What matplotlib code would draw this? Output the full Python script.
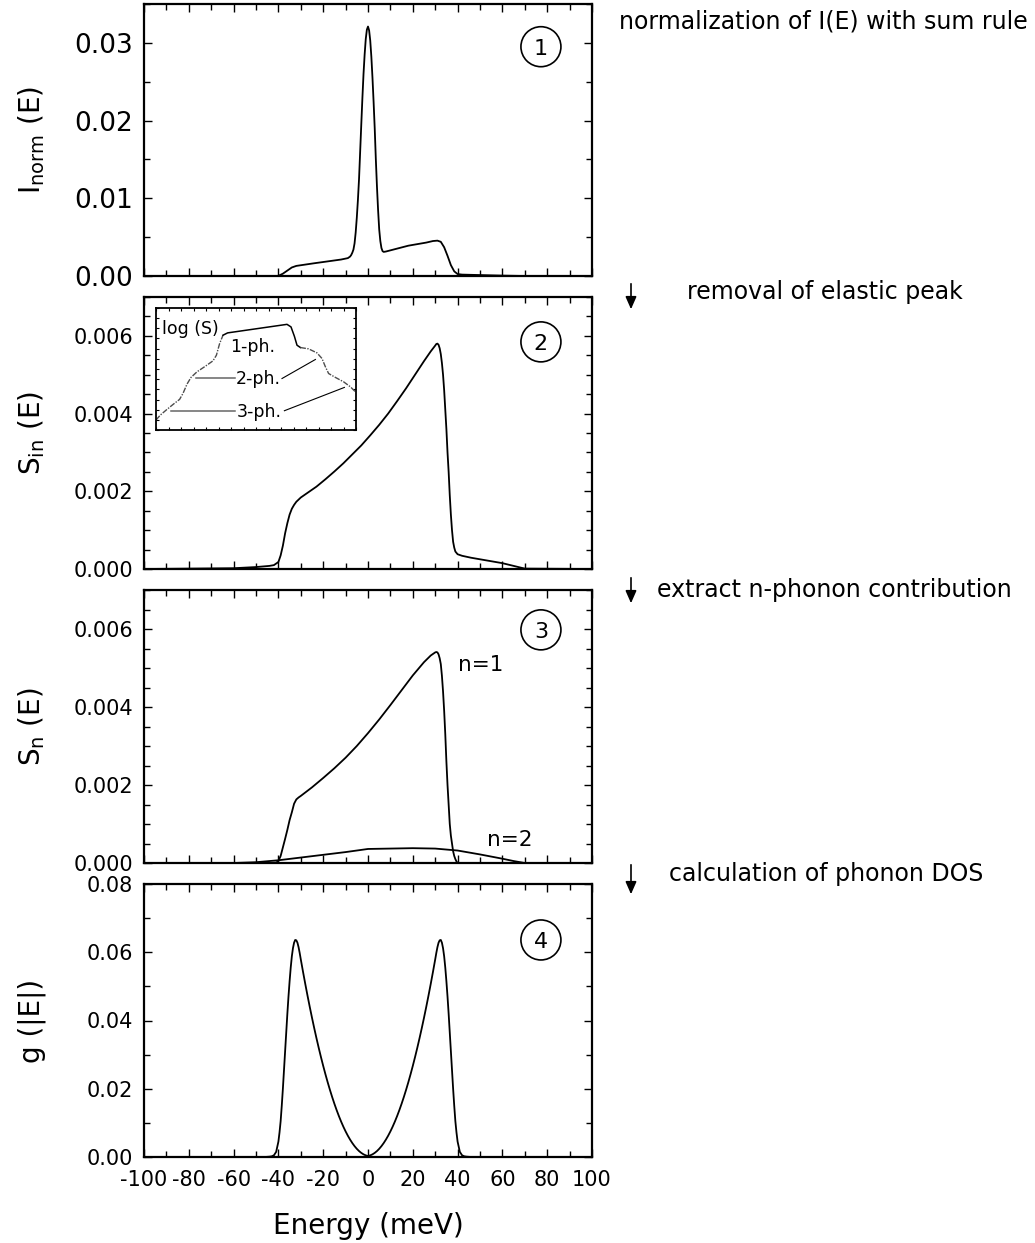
"""Four-step phonon DOS extraction figure (I(E) -> S_in -> S_n -> g)."""

import matplotlib
matplotlib.use("Agg")
import matplotlib.pyplot as plt
from matplotlib.patches import Ellipse, FancyArrowPatch
from matplotlib.ticker import MultipleLocator, FormatStrFormatter

plt.rcParams["font.family"] = ["DejaVu Sans"]
plt.rcParams["axes.unicode_minus"] = False
plt.rcParams["mathtext.default"] = "regular"

# --- panel 1: normalized spectrum I_norm(E) ---
e_norm = [-100, -42, -40, -38, -36, -34, -32, -28, -24, -20, -16, -12, -9,
          -8, -7.5, -7, -6.5, -6, -5.5, -5, -4.5, -4, -3.5, -3, -2.5, -2,
          -1.5, -1, -0.5, 0, 0.5, 1, 1.5, 2, 2.5, 3, 3.5, 4, 4.5, 5, 5.5, 6,
          6.5, 7, 8, 10, 14, 18, 22, 26, 29, 31, 32.5, 34, 35.5, 37, 38.5,
          40, 42, 50, 60, 70, 100]
i_norm = [0, 0, 0.00002, 0.0003, 0.0007, 0.0011, 0.0013, 0.00147, 0.00164,
          0.0018, 0.00196, 0.00212, 0.0023, 0.0025, 0.0027, 0.003, 0.0034,
          0.0042, 0.0056, 0.0075, 0.0098, 0.0125, 0.016, 0.0195, 0.0229,
          0.026, 0.0285, 0.0305, 0.0317, 0.0321, 0.0316, 0.0303, 0.0282,
          0.0255, 0.0224, 0.019, 0.015, 0.0115, 0.0085, 0.006, 0.0045, 0.0036,
          0.0032, 0.0031, 0.00315, 0.0033, 0.0036, 0.0039, 0.0041, 0.0043,
          0.0045, 0.00455, 0.0044, 0.0037, 0.0026, 0.0014, 0.0006, 0.00025,
          0.00018, 0.00012, 0.00005, 0, 0]

# --- panel 2: inelastic part S_in(E) ---
e_in = [-100, -60, -50, -44, -42, -40, -39, -38, -37, -36, -35, -34, -33, -32,
        -30, -27, -23, -19, -15, -11, -7, -3, 1, 5, 9, 13, 17, 21, 25, 28, 30,
        30.5, 31, 31.5, 32, 32.5, 33, 33.5, 34, 34.5, 35, 35.5, 36, 36.5, 37,
        37.5, 38, 38.5, 39, 40, 42, 46, 50, 55, 60, 65, 70, 100]
s_in = [0, 0.00002, 0.00005, 0.00008, 0.0001, 0.00018, 0.00035, 0.0006,
        0.00092, 0.00118, 0.0014, 0.00155, 0.00165, 0.00173, 0.00184,
        0.00196, 0.00212, 0.00231, 0.00251, 0.00272, 0.00295, 0.00318,
        0.00344, 0.00371, 0.004, 0.00432, 0.00465, 0.005, 0.00535, 0.0056,
        0.00575, 0.00579, 0.0058, 0.00577, 0.00568, 0.00553, 0.0053, 0.005,
        0.0046, 0.0041, 0.0036, 0.003, 0.0025, 0.0019, 0.0014, 0.001, 0.0007,
        0.00055, 0.00045, 0.00038, 0.00034, 0.00029, 0.00025, 0.0002,
        0.00015, 0.00008, 0.00001, 0]

# inset: log(S) sketch, arbitrary units (0..1 on both axes)
inset_x = [0, 0.022, 0.055, 0.088, 0.118, 0.135, 0.155, 0.175, 0.205, 0.247,
           0.285, 0.302, 0.318, 0.335]
inset_y = [0.082, 0.123, 0.169, 0.213, 0.251, 0.300, 0.376, 0.431, 0.477,
           0.523, 0.567, 0.613, 0.708, 0.777]
inset_top_x = [0.335, 0.358, 0.655, 0.675, 0.692, 0.705, 0.722]
inset_top_y = [0.777, 0.796, 0.866, 0.845, 0.768, 0.695, 0.676]
inset_right_x = [0.722, 0.763, 0.805, 0.830, 0.847, 0.863, 0.897, 0.938,
                 0.972, 1.0]
inset_right_y = [0.676, 0.665, 0.632, 0.586, 0.518, 0.463, 0.431, 0.395,
                 0.354, 0.308]

# --- panel 3: n-phonon contributions ---
e_n1 = [-100, -44, -41, -40, -39, -38, -37, -36, -35, -34, -33, -32, -31, -30,
        -25, -20, -15, -10, -5, 0, 5, 10, 15, 20, 25, 28, 30, 30.5, 31, 31.5,
        32, 32.5, 33, 33.5, 34, 34.5, 35, 35.5, 36, 36.5, 37, 37.5, 38, 38.5,
        39, 39.5, 40, 100]
s_n1 = [0, 0, 0.00001, 0.00005, 0.00018, 0.0004, 0.00062, 0.00085, 0.0011,
        0.0013, 0.00152, 0.00163, 0.00168, 0.00172, 0.00194, 0.00218,
        0.00243, 0.0027, 0.003, 0.00333, 0.00368, 0.00405, 0.00443, 0.00481,
        0.00515, 0.00532, 0.0054, 0.00541, 0.0054, 0.00535, 0.00525, 0.0051,
        0.0048, 0.0044, 0.0039, 0.0033, 0.0026, 0.002, 0.0015, 0.001, 0.0007,
        0.0005, 0.0003, 0.00018, 0.0001, 0.00004, 0, 0]
e_n2 = [-100, -60, -50, -40, -30, -20, -10, 0, 10, 20, 30, 40, 50, 60, 65,
        70, 100]
s_n2 = [0, 0, 0.00002, 0.00007, 0.00014, 0.00021, 0.00028, 0.00036, 0.00037,
        0.00038, 0.00037, 0.00032, 0.00022, 0.00011, 0.00005, 0, 0]

# --- panel 4: phonon DOS g(|E|) ---
e_dos = [-100, -46, -44, -43, -42, -41, -40, -39.5, -39, -38.5, -38, -37.5,
         -37, -36.5, -36, -35.5, -35, -34.5, -34, -33.5, -33, -32.5, -32,
         -31.5, -31, -30.5, -30, -29, -28, -27, -26, -25, -24, -23, -22, -21,
         -20, -19, -18, -17, -16, -15, -14, -13, -12, -11, -10, -9, -8, -7,
         -6, -5, -4, -3, -2, -1, 0,
         1, 2, 3, 4, 5, 6, 7, 8, 9, 10, 11, 12, 13, 14, 15, 16, 17, 18, 19,
         20, 21, 22, 23, 24, 25, 26, 27, 28, 29, 30, 30.5, 31, 31.5, 32, 32.5,
         33, 33.5, 34, 34.5, 35, 35.5, 36, 36.5, 37, 37.5, 38, 38.5, 39, 39.5,
         40, 41, 42, 43, 44, 46, 100]
g_dos = [0, 0, 0.0001, 0.0002, 0.0005, 0.0015, 0.0045, 0.0072, 0.0105, 0.015,
         0.02, 0.0255, 0.031, 0.0365, 0.042, 0.047, 0.0515, 0.0555, 0.0588,
         0.0612, 0.0628, 0.0636, 0.0635, 0.0628, 0.0615, 0.0598, 0.0579,
         0.05424, 0.0507, 0.04728, 0.04398, 0.0408, 0.03774, 0.0348, 0.03198,
         0.02928, 0.0267, 0.02424, 0.0219, 0.01968, 0.01758, 0.0156, 0.01374,
         0.012, 0.01038, 0.00888, 0.0075, 0.00624, 0.0051, 0.00408, 0.00318,
         0.0024, 0.00174, 0.0012, 0.00078, 0.00048, 0.0003,
         0.00048, 0.00078, 0.0012, 0.00174, 0.0024, 0.00318, 0.00408, 0.0051,
         0.00624, 0.0075, 0.00888, 0.01038, 0.012, 0.01374, 0.0156, 0.01758,
         0.01968, 0.0219, 0.02424, 0.0267, 0.02928, 0.03198, 0.0348, 0.03774,
         0.0408, 0.04398, 0.04728, 0.0507, 0.05424, 0.0579, 0.0598, 0.0615,
         0.0628, 0.0635, 0.0636, 0.0628, 0.0612, 0.0588, 0.0555, 0.0515,
         0.047, 0.042, 0.0365, 0.031, 0.0255, 0.02, 0.015, 0.0105, 0.0072,
         0.0045, 0.0015, 0.0005, 0.0002, 0.0001, 0, 0]

steps = ["normalization of I(E) with sum rule", "removal of elastic peak",
         "extract n-phonon contribution", "calculation of phonon DOS"]

W, H = 1035, 1243
fig = plt.figure(figsize=(W / 100, H / 100), dpi=100)


def px_axes(left, top, right, bottom):
    return fig.add_axes([left / W, 1 - bottom / H, (right - left) / W,
                         (bottom - top) / H])


def style_axes(ax, ymax, ymajor, yminor, yfmt, ysize, show_x=False):
    ax.set_xlim(-100, 100)
    ax.set_ylim(0, ymax)
    ax.xaxis.set_major_locator(MultipleLocator(20))
    ax.xaxis.set_minor_locator(MultipleLocator(10))
    ax.yaxis.set_major_locator(MultipleLocator(ymajor))
    ax.yaxis.set_minor_locator(MultipleLocator(yminor))
    ax.yaxis.set_major_formatter(FormatStrFormatter(yfmt))
    ax.tick_params(which="both", direction="in", top=True, right=True,
                   width=1.0)
    ax.tick_params(which="major", length=6)
    ax.tick_params(which="minor", length=4)
    ax.tick_params(axis="y", labelsize=ysize, pad=8)
    ax.tick_params(axis="x", labelsize=15, pad=9, labelbottom=show_x)
    for spine in ax.spines.values():
        spine.set_linewidth(1.6)


def circled(ax, label, xf, yf, h_px):
    ax.add_patch(Ellipse((xf, yf), 40 / 448, 40 / h_px, transform=ax.transAxes,
                         fill=False, lw=1.2, color="black"))
    ax.text(xf, yf, label, transform=ax.transAxes, ha="center",
            va="center_baseline", fontsize=16)


line_kw = dict(color="black", lw=1.3)

ax1 = px_axes(144, 4, 592, 276)
ax1.plot(e_norm, i_norm, **line_kw)
style_axes(ax1, 0.035, 0.01, 0.005, "%.2f", 19)
circled(ax1, "1", 0.886, 0.843, 272)

ax2 = px_axes(144, 297, 592, 569)
ax2.plot(e_in, s_in, **line_kw)
style_axes(ax2, 0.007, 0.002, 0.0005, "%.3f", 15)
circled(ax2, "2", 0.886, 0.835, 272)

ax3 = px_axes(144, 590, 592, 863)
ax3.plot(e_n1, s_n1, **line_kw)
ax3.plot(e_n2, s_n2, **line_kw)
style_axes(ax3, 0.007, 0.002, 0.0005, "%.3f", 15)
circled(ax3, "3", 0.886, 0.854, 273)
ax3.text(50.3, 0.00508, "n=1", ha="center", va="center", fontsize=15.5)
ax3.text(63.4, 0.0006, "n=2", ha="center", va="center", fontsize=15.5)

ax4 = px_axes(144, 884, 592, 1157)
ax4.plot(e_dos, g_dos, **line_kw)
style_axes(ax4, 0.08, 0.02, 0.01, "%.2f", 15, show_x=True)
ax4.xaxis.set_major_formatter(FormatStrFormatter("%d"))
ax4.set_xlabel("Energy (meV)", fontsize=20, labelpad=16)
circled(ax4, "4", 0.886, 0.795, 273)

ylabels = [r"$I_{norm}$ (E)", r"$S_{in}$ (E)", r"$S_{n}$ (E)", "g (|E|)"]
for ax, lab in zip([ax1, ax2, ax3, ax4], ylabels):
    box = ax.get_position()
    fig.text(32 / W, box.y0 + box.height / 2, lab, rotation=90, ha="center",
             va="center", fontsize=20)

# inset with log(S) sketch
axi = px_axes(156, 308, 356, 430)
axi.plot(inset_x, inset_y, color="0.3", lw=1.0, ls=(0, (4, 1, 1, 1)))
axi.plot(inset_top_x, inset_top_y, color="black", lw=1.1)
axi.plot(inset_right_x, inset_right_y, color="0.3", lw=1.0,
         ls=(0, (4, 1, 1, 1)))
axi.plot([0.202, 0.397], [0.428, 0.428], color="0.4", lw=1.1)
axi.plot([0.63, 0.797], [0.422, 0.578], color="black", lw=0.8)
axi.plot([0.075, 0.397], [0.158, 0.158], color="0.4", lw=1.1)
axi.plot([0.642, 0.942], [0.158, 0.349], color="black", lw=0.8)
axi.text(0.03, 0.83, "log (S)", ha="left", va="center", fontsize=12.5)
axi.text(0.485, 0.681, "1-ph.", ha="center", va="center", fontsize=12.5)
axi.text(0.512, 0.422, "2-ph.", ha="center", va="center", fontsize=12.5)
axi.text(0.518, 0.15, "3-ph.", ha="center", va="center", fontsize=12.5)
axi.set_xlim(0, 1)
axi.set_ylim(0, 1)
axi.xaxis.set_major_locator(MultipleLocator(1 / 16))
axi.yaxis.set_major_locator(MultipleLocator(1 / 12))
axi.tick_params(which="both", direction="in", top=True, right=True,
                length=2.5, width=0.8, labelbottom=False, labelleft=False)
for spine in axi.spines.values():
    spine.set_linewidth(1.3)

# step descriptions on the right
step_pos = [(619, 21), (687, 292), (657, 590), (669, 874)]
for (x, y), txt in zip(step_pos, steps):
    fig.text(x / W, 1 - y / H, txt, ha="left", va="center", fontsize=17)

for y0, y1 in [(281, 312), (575, 606), (862, 897)]:
    arrow = FancyArrowPatch((631 / W, 1 - y0 / H), (631 / W, 1 - y1 / H),
                            transform=fig.transFigure,
                            arrowstyle="-|>,head_length=0.5,head_width=0.22",
                            mutation_scale=15, lw=1.2, color="black")
    fig.add_artist(arrow)

fig.savefig("out.png", dpi=100)
plt.close(fig)
